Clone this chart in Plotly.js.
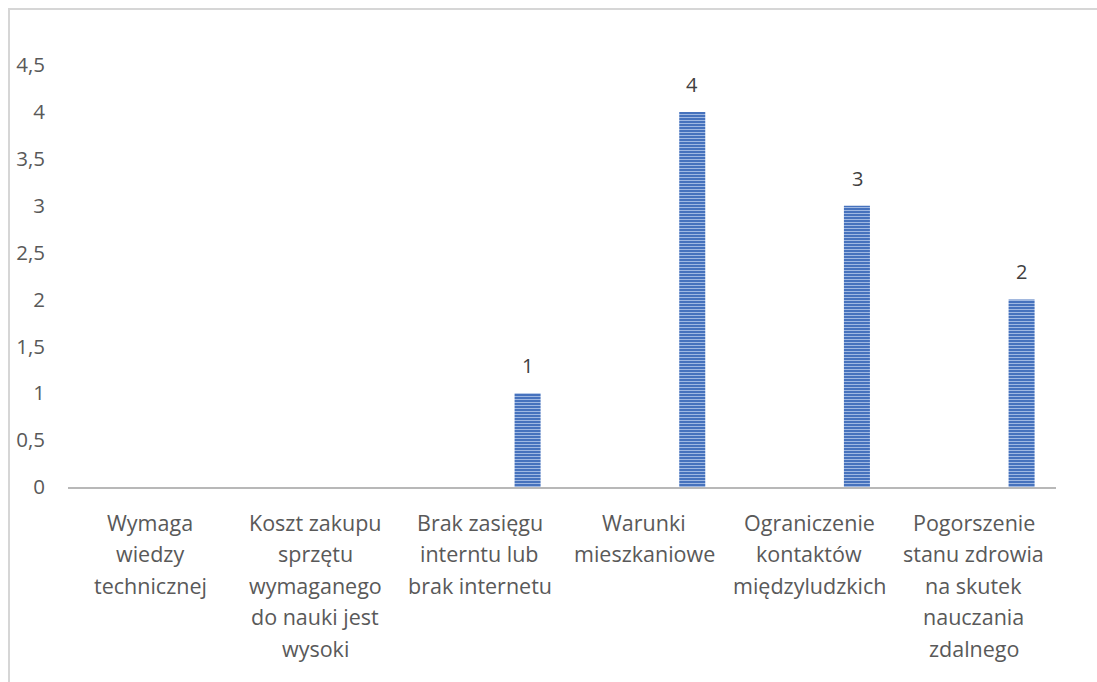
<!DOCTYPE html>
<html>
<head>
<meta charset="utf-8">
<script src="https://cdn.plot.ly/plotly-3.0.1.min.js"></script>
<style>
  html, body { margin: 0; padding: 0; background: #ffffff; }
  #frame { position: absolute; left: 8px; top: 8px; width: 1100px; height: 690px;
           border-left: 2px solid #d6d6d6; border-top: 2px solid #d6d6d6; box-sizing: border-box; }
  #chart { position: absolute; left: 0; top: 0; width: 1097px; height: 682px; }
</style>
</head>
<body>
<div id="frame"></div>
<div id="chart"></div>
<script>
const categories = [
  "Wymaga<br>wiedzy<br>technicznej",
  "Koszt zakupu<br>sprzętu<br>wymaganego<br>do nauki jest<br>wysoki",
  "Brak zasięgu<br>interntu lub<br>brak internetu",
  "Warunki<br>mieszkaniowe",
  "Ograniczenie<br>kontaktów<br>międzyludzkich",
  "Pogorszenie<br>stanu zdrowia<br>na skutek<br>nauczania<br>zdalnego"
];
const values = [0, 0, 1, 4, 3, 2];
const yTicks = [0, 0.5, 1, 1.5, 2, 2.5, 3, 3.5, 4, 4.5];

const textColor = "#595959";
const fontFamily = "'Open Sans', 'Noto Sans', sans-serif";

const trace = {
  type: "bar",
  x: categories,
  y: values,
  width: 0.158,
  offset: 0.212,
  marker: {
    color: "#4672bd",
    line: { width: 0 },
    pattern: { shape: "-", size: 3, solidity: 0.35, fgcolor: "#9fb8e2", bgcolor: "#4672bd" }
  },
  hoverinfo: "x+y"
};

const annotations = [];
categories.forEach((c, i) => {
  if (values[i] !== 0) {
    annotations.push({
      x: c, y: values[i], xref: "x", yref: "y",
      text: String(values[i]), showarrow: false,
      xshift: 48, yshift: 12, yanchor: "bottom",
      font: { family: fontFamily, size: 20, color: "#404040" }
    });
  }
  // category label, one line at a time (wider line spacing than tick labels allow)
  c.split("<br>").forEach((line, k) => {
    annotations.push({
      x: c, y: 0, xref: "x", yref: "paper",
      text: line, showarrow: false,
      xanchor: "center", yanchor: "middle",
      yshift: -(35 + 31.6 * k),
      font: { family: fontFamily, size: 21.5, color: textColor }
    });
  });
});

const layout = {
  width: 1097, height: 682,
  margin: { l: 68, r: 41, t: 65, b: 195 },
  paper_bgcolor: "rgba(0,0,0,0)",
  plot_bgcolor: "rgba(0,0,0,0)",
  separators: ", ",
  showlegend: false,
  font: { family: fontFamily, size: 21, color: textColor },
  xaxis: {
    type: "category",
    showline: true, linecolor: "#b8b8b8", linewidth: 2,
    showgrid: false, zeroline: false, ticks: "",
    showticklabels: false,
    fixedrange: true
  },
  yaxis: {
    range: [0, 4.5],
    tickvals: yTicks,
    showline: false, showgrid: false, zeroline: false, ticks: "",
    ticklabelstandoff: 22,
    tickfont: { family: fontFamily, size: 20.5, color: textColor },
    fixedrange: true
  },
  annotations: annotations
};

Plotly.newPlot("chart", [trace], layout, { displayModeBar: false, staticPlot: true });
</script>
</body>
</html>
